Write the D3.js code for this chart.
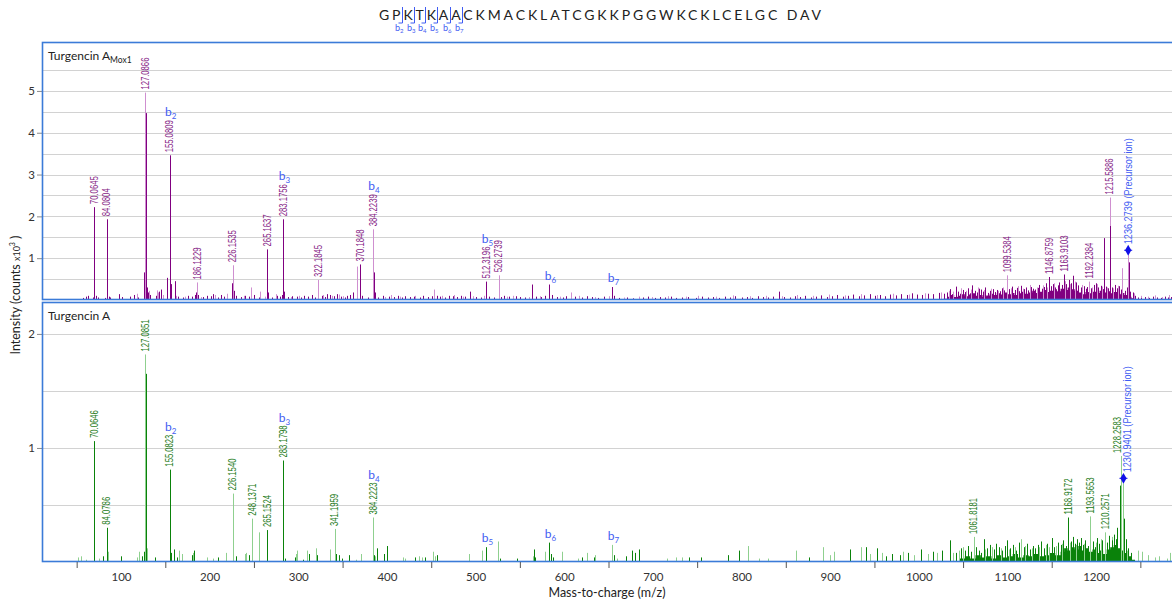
<!DOCTYPE html>
<html>
<head>
<meta charset="utf-8">
<script src="https://cdn.jsdelivr.net/npm/d3@7"></script>
<style>
  body { margin: 0; background: #fff; }
  svg { display: block; font-family: Lato, "Open Sans", "Liberation Sans", sans-serif; }
</style>
</head>
<body>
<svg id="chart" width="1172" height="602"></svg>
<script>
// ---------- Peptide sequence and b-ion fragments ----------
const sequence = "GPKTKAACKMACKLATCGKKPGGWKCKLCELGC DAV";
const bIonNames = ["b2", "b3", "b4", "b5", "b6", "b7"];
const bIonMz = [155.08, 283.18, 384.22, 512.32, 583.36, 654.39];

// ---------- Axis ticks ----------
const xTickLabels = [100, 200, 300, 400, 500, 600, 700, 800, 900, 1000, 1100, 1200];
const xMinorTicks = [50, 150, 250, 350, 450, 550, 650, 750, 850, 950, 1050, 1150, 1250];
const yTicksTop = [1, 2, 3, 4, 5];
const yGridTop = [0.5, 1, 1.5, 2, 2.5, 3, 3.5, 4, 4.5, 5, 5.5];
const yTicksBottom = [1, 2];
const yGridBottom = [0.5, 1, 1.5, 2];

// ---------- Turgencin A Mox1 spectrum: [m/z, intensity (x10^3 counts)] ----------
const topDark = [
  [57.1,.05],[60.0,.08],[62.4,.10],[68.2,.06],[70.0645,2.22],[72.1,.10],[74.5,.06],[81.5,.05],[84.0804,1.93],[86.1,.08],
  [88.0,.06],[98.1,.14],[101.1,.07],[110.2,.08],[115.1,.12],[119.5,.06],[126.1,.66],[128.6,4.47],[129.6,.30],[130.6,.18],
  [133.0,.12],[139.2,.10],[143.1,.20],[145.5,.25],[151.5,.53],[155.0809,3.46],[156.4,.38],[160.6,.45],[164.2,.08],[170.1,.06],
  [175.2,.10],[180.5,.08],[183.2,.12],[184.8,.18],[186.9,.12],[192.1,.07],[196.5,.10],[201.2,.09],[203.4,.14],[209.8,.06],
  [212.3,.12],[216.1,.08],[224.9,.40],[227.1,.22],[229.4,.10],[235.1,.07],[240.2,.10],[244.2,.08],[250.1,.12],[255.3,.06],
  [265.1637,1.21],[266.4,.18],[270.3,.06],[276.0,.10],[279.2,.08],[281.4,.12],[283.1756,1.93],[284.4,.20],[288.5,.07],[293.1,.09],
  [298.2,.08],[303.2,.06],[306.1,.10],[311.2,.08],[315.0,.12],[318.4,.06],[326.4,.10],[330.5,.07],[332.2,.14],[336.1,.12],
  [340.2,.09],[344.0,.14],[348.1,.08],[352.3,.06],[355.2,.10],[358.8,.12],[362.1,.18],[370.1848,.85],[372.4,.10],[378.2,.06],
  [385.4,.66],[386.8,.18],[390.2,.06],[395.1,.10],[402.4,.08],[408.2,.07],[412.5,.10],[417.3,.06],[420.1,.09],[426.3,.07],
  [430.2,.08],[437.1,.06],[441.0,.10],[446.2,.07],[450.5,.09],[456.1,.10],[460.2,.08],[465.3,.06],[470.1,.10],[474.2,.09],
  [479.3,.07],[483.3,.10],[488.1,.08],[493.2,.20],[500.3,.07],[506.2,.06],[512.3196,.44],[515.1,.08],[520.3,.06],[528.4,.07],
  [532.2,.10],[538.0,.08],[545.3,.09],[550.1,.07],[556.2,.06],[564.0,.37],[568.4,.08],[574.1,.07],[578.2,.10],[583.3,.37],
  [586.2,.12],[591.4,.07],[598.1,.06],[602.3,.09],[612.2,.08],[620.1,.06],[626.3,.09],[631.1,.07],[638.2,.05],[645.0,.08],
  [654.4,.31],[656.1,.10],[662.2,.05],[670.3,.06],[678.1,.04],[689.2,.06],[695.1,.08],[702.3,.05],[708.4,.07],[714.2,.06],
  [720.1,.08],[726.5,.05],[733.2,.06],[740.1,.07],[748.3,.05],[755.2,.08],[762.1,.06],[768.4,.07],[775.0,.05],[781.2,.08],
  [787.3,.06],[793.1,.09],[800.2,.06],[806.4,.07],[812.3,.05],[818.1,.09],[824.2,.07],[830.4,.06],[836.1,.08],[842.3,.20],
  [848.1,.07],[854.2,.06],[860.5,.09],[866.2,.07],[872.1,.10],[878.3,.06],[884.2,.08],[890.1,.11],[896.3,.07],[902.2,.09],
  [908.1,.12],[914.4,.08],[920.2,.10],[926.3,.13],[932.1,.09],[938.2,.11],[944.5,.14],[950.1,.10],[956.3,.12],[962.2,.09],
  [968.0,.13],[974.3,.11],[980.1,.14],[986.2,.12],[992.4,.16],[998.1,.13],[1004.2,.12],[1010.3,.15],[1016.1,.14],[1022.4,.17],
  [1028.2,.15],[1032.4,.18],[1035.1,.26],[1037.8,.14],[1041.8,.32],[1044.2,.20],[1046.9,.15],[1049.5,.24],[1052.3,.19],[1055.0,.28],
  [1057.6,.16],[1060.4,.35],[1063.1,.22],[1065.7,.18],[1068.2,.27],[1070.0,.25],[1072.8,.20],[1075.3,.30],[1078.1,.17],[1080.6,.22],
  [1083.4,.26],[1086.0,.19],[1088.7,.24],[1091.2,.21],[1093.9,.28],[1096.5,.23],[1102.3,.26],[1105.6,.32],[1108.2,.24],[1110.9,.29],
  [1113.5,.21],[1115.9,.34],[1118.6,.26],[1121.2,.30],[1123.8,.23],[1126.4,.31],[1129.0,.27],[1131.7,.25],[1134.3,.29],[1136.0,.36],
  [1138.8,.27],[1141.2,.31],[1143.5,.40],[1146.8759,.55],[1149.4,.33],[1151.7,.38],[1154.2,.30],[1156.6,.35],[1158.7,.42],[1161.1,.36],
  [1163.9103,.61],[1166.2,.38],[1169.5,.48],[1171.9,.40],[1174.3,.58],[1177.6,.42],[1180.1,.35],[1182.7,.30],[1185.9,.33],[1188.4,.27],
  [1190.1,.31],[1194.6,.28],[1197.2,.36],[1199.8,.40],[1202.5,.30],[1205.1,.34],[1207.4,.26],[1209.5,1.48],[1211.8,.32],[1213.6,.28],
  [1216.3,1.77],[1218.4,.30],[1221.0,.36],[1223.5,.28],[1225.8,.33],[1228.0,.25],[1232.7,.22],[1234.4,.30],[1237.0,.90],[1238.6,.20],
  [1241.5,.18],[1244.0,.10],[1247.3,.06],[1251.2,.05],[1255.6,.07],[1260.3,.05],[1264.8,.08],[1269.1,.06],[1273.4,.05],[1277.9,.08],
  [1281.5,.06],[1284.8,.07]
];
const topLight = [
  [118.0,.15],[127.0866,4.96],[131.2,.22],[140.2,.23],[141.5,.18],[147.8,.12],[162.3,.10],[172.4,.08],[186.1229,.42],[190.3,.07],
  [206.2,.12],[219.3,.15],[226.1535,.83],[238.4,.10],[246.3,.30],[257.0,.20],[262.0,.08],[274.4,.14],[291.3,.07],[300.4,.10],
  [322.1845,.48],[328.1,.12],[338.2,.10],[346.3,.13],[350.0,.09],[366.0,.80],[384.2239,1.69],[398.4,.07],[405.0,.12],[415.2,.08],
  [432.1,.10],[453.5,.25],[462.2,.10],[476.1,.12],[485.4,.08],[497.2,.09],[510.0,.10],[526.2739,.59],[535.3,.08],[542.1,.10],
  [560.2,.07],[572.2,.09],[595.2,.08],[608.0,.18],[616.3,.10],[634.2,.07],[650.1,.09],[667.2,.06],[684.3,.08],[699.2,.07],
  [717.3,.09],[737.1,.08],[751.2,.10],[771.3,.08],[790.4,.11],[809.2,.09],[827.3,.10],[845.2,.09],[863.1,.12],[881.2,.10],
  [899.3,.13],[917.2,.11],[935.4,.14],[953.1,.12],[971.2,.15],[989.3,.13],[1007.2,.16],[1025.1,.18],[1033.6,.22],[1039.0,.20],
  [1047.7,.28],[1053.8,.22],[1058.9,.25],[1066.6,.30],[1073.9,.24],[1081.9,.27],[1089.9,.22],[1094.8,.30],[1099.5384,.59],[1103.9,.28],
  [1111.7,.33],[1117.4,.27],[1125.0,.36],[1132.9,.30],[1139.7,.35],[1144.9,.30],[1152.9,.40],[1157.6,.34],[1165.0,.45],[1170.7,.38],
  [1176.1,.44],[1183.8,.36],[1192.2384,.44],[1196.0,.30],[1201.1,.38],[1206.3,.32],[1212.7,.30],[1215.5886,2.45],[1219.7,.28],[1224.6,.34],
  [1229.6,.76],[1236.2739,1.07],[1242.8,.16],[1250.3,.10],[1258.2,.08],[1266.4,.11],[1274.1,.07],[1282.3,.12]
];
// unresolved baseline under the high-mass cluster
const topFloor = [
  [1028,.03],[1032,.08],[1036,.12],[1040,.07],[1044,.10],[1048,.14],[1052,.09],[1056,.13],[1060,.16],[1064,.10],
  [1068,.12],[1072,.08],[1076,.11],[1080,.15],[1084,.12],[1088,.16],[1092,.13],[1096,.18],[1100,.14],[1104,.17],
  [1108,.12],[1112,.16],[1116,.20],[1120,.15],[1124,.18],[1128,.22],[1132,.17],[1136,.20],[1140,.24],[1144,.19],
  [1148,.22],[1152,.26],[1156,.21],[1160,.27],[1164,.24],[1168,.30],[1172,.26],[1176,.22],[1180,.18],[1184,.14],
  [1188,.19],[1192,.16],[1196,.20],[1200,.17],[1204,.22],[1208,.18],[1212,.21],[1216,.16],[1220,.19],[1224,.14],
  [1228,.17],[1232,.12],[1236,.08],[1240,.04],[1244,0]
];
const topLabels = [70.0645, 84.0804, 127.0866, 155.0809, 186.1229, 226.1535, 265.1637, 283.1756, 322.1845, 370.1848,
  384.2239, 512.3196, 526.2739, 1099.5384, 1146.8759, 1163.9103, 1192.2384, 1215.5886];
const topPrecursor = 1236.2739;

// ---------- Turgencin A spectrum ----------
const bottomDark = [
  [70.0646,1.06],[80.0,.05],[84.0786,.30],[99.6,.05],[123.3,.05],[126.3,.09],[128.6,1.65],[138.7,.04],[155.0823,.81],[156.6,.08],
  [160.0,.11],[163.6,.04],[180.4,.06],[182.0,.10],[209.8,.04],[229.4,.05],[244.4,.06],[265.1524,.28],[283.1798,.89],[284.8,.03],
  [296.3,.04],[305.0,.02],[312.0,.07],[320.8,.06],[342.4,.07],[346.3,.06],[349.0,.03],[357.2,.06],[385.6,.06],[388.4,.12],
  [397.0,.07],[400.5,.14],[431.2,.04],[443.3,.04],[456.1,.06],[512.3,.13],[528.0,.03],[547.0,.03],[565.6,.11],[567.5,.04],
  [583.36,.17],[585.0,.07],[587.0,.04],[620.5,.04],[633.6,.04],[656.0,.06],[670.0,.05],[676.0,.10],[680.0,.08],[684.8,.11],
  [741.0,.04],[754.0,.04],[785.0,.06],[797.6,.10],[875.8,.04],[922.6,.11],[940.9,.13],[953.3,.12],[963.5,.05],[970.2,.07],
  [978.4,.06],[988.0,.08],[1003.0,.11],[1015.8,.09],[1026.5,.10],[1035.0,.19],[1042.5,.08],[1047.3,.12],[1052.0,.10],[1055.8,.14],
  [1058.6,.09],[1064.2,.13],[1067.9,.10],[1070.5,.08],[1073.6,.20],[1077.3,.12],[1080.8,.15],[1084.4,.11],[1087.1,.16],[1090.6,.13],
  [1094.0,.10],[1097.2,.14],[1099.6,.19],[1103.1,.12],[1106.7,.15],[1109.8,.10],[1113.0,.17],[1118.5,.13],[1122.0,.16],[1125.4,.11],
  [1128.8,.14],[1131.6,.12],[1134.5,.15],[1138.0,.18],[1141.3,.12],[1144.6,.16],[1149.8,.21],[1152.3,.13],[1157.0,.17],[1160.4,.15],
  [1163.2,.19],[1165.8,.14],[1168.9172,.39],[1171.2,.18],[1173.5,.22],[1175.9,.16],[1178.3,.20],[1180.7,.17],[1183.0,.21],[1185.6,.15],
  [1188.1,.19],[1190.4,.14],[1196.2,.18],[1198.7,.13],[1201.3,.21],[1203.8,.16],[1206.5,.19],[1212.6,.17],[1215.0,.23],[1217.5,.19],
  [1219.8,.24],[1222.3,.20],[1224.0,.30],[1227.6,.67],[1231.6,.38],[1233.8,.20],[1236.4,.12],[1239.0,.08]
];
const bottomLight = [
  [52.0,.04],[54.5,.05],[61.0,.02],[75.0,.03],[85.4,.09],[118.4,.04],[120.0,.09],[127.0851,1.82],[129.6,.12],[165.8,.10],
  [168.5,.07],[181.5,.08],[196.7,.04],[203.4,.03],[218.0,.08],[226.1540,.60],[239.5,.07],[241.5,.08],[248.1371,.38],[255.7,.26],
  [297.4,.07],[298.9,.10],[310.2,.10],[319.6,.12],[335.8,.11],[341.1959,.29],[365.0,.02],[370.8,.07],[384.2223,.39],[386.6,.05],
  [417.8,.04],[420.8,.03],[435.7,.05],[439.2,.04],[451.6,.09],[454.2,.05],[492.2,.07],[506.9,.10],[525.7,.18],[564.4,.05],
  [578.3,.09],[597.8,.09],[615.6,.03],[625.3,.08],[635.0,.06],[654.39,.15],[660.0,.03],[715.7,.03],[726.0,.04],[733.0,.04],
  [807.9,.14],[820.0,.03],[830.2,.03],[861.8,.10],[892.3,.13],[900.1,.06],[904.0,.09],[935.0,.13],[945.5,.07],[958.6,.08],
  [982.0,.09],[995.0,.06],[1010.2,.07],[1021.0,.08],[1038.6,.08],[1045.0,.10],[1049.6,.13],[1061.8181,.22],[1075.2,.11],[1082.6,.13],
  [1092.4,.12],[1101.5,.11],[1108.3,.13],[1115.9,.20],[1120.4,.14],[1127.2,.12],[1136.2,.13],[1143.0,.15],[1147.5,.13],[1155.0,.14],
  [1162.0,.16],[1170.3,.17],[1177.0,.15],[1186.4,.16],[1193.5653,.40],[1199.9,.17],[1205.2,.20],[1210.2571,.26],[1218.4,.22],[1222.9,.18],
  [1228.2583,.93],[1230.9401,.69],[1234.6,.10],[1247.3,.10],[1251.8,.09],[1258.6,.06],[1266.2,.04],[1271.0,.05],[1279.5,.03],[1284.0,.08]
];
const bottomFloor = [
  [1040,0],[1046,.03],[1052,.05],[1058,.03],[1064,.06],[1070,.04],[1076,.05],[1082,.03],[1088,.06],[1094,.04],
  [1100,.05],[1106,.07],[1112,.04],[1118,.06],[1124,.05],[1130,.07],[1136,.05],[1142,.06],[1148,.08],[1154,.06],
  [1160,.09],[1164,.12],[1168,.10],[1172,.13],[1176,.11],[1180,.14],[1184,.10],[1188,.12],[1192,.09],[1196,.11],
  [1200,.08],[1204,.10],[1208,.07],[1212,.11],[1216,.13],[1220,.15],[1224,.12],[1228,.10],[1232,.08],[1236,.05],
  [1240,.02],[1244,0]
];
const bottomLabels = [70.0646, 84.0786, 127.0851, 155.0823, 226.1540, 248.1371, 265.1524, 283.1798, 341.1959, 384.2223,
  1061.8181, 1168.9172, 1193.5653, 1210.2571, 1228.2583];
const bottomPrecursor = 1230.9401;

// ---------- Layout ----------
const svg = d3.select("#chart");
const plotLeft = 42, plotRight = 1172;
const x = d3.scaleLinear().domain([10.9, 1285.7]).range([plotLeft, plotRight]);
const frameBlue = "#3b7bd8";
const ionBlue = "#3f5cf2";
const labelFont = '"Liberation Sans", Arial, sans-serif';

const panels = [
  { key: "mox", title: "Turgencin A", sub: "Mox1", top: 42, bottom: 300, ymax: 6.17,
    ticks: yTicksTop, grid: yGridTop, dark: topDark, light: topLight, floor: topFloor,
    labels: topLabels, precursor: topPrecursor,
    darkColor: "#800080", lightColor: "#cf8fd0", textColor: "#862486" },
  { key: "native", title: "Turgencin A", sub: "", top: 302, bottom: 562, ymax: 2.28,
    ticks: yTicksBottom, grid: yGridBottom, dark: bottomDark, light: bottomLight, floor: bottomFloor,
    labels: bottomLabels, precursor: bottomPrecursor,
    darkColor: "#0a820a", lightColor: "#8fd08f", textColor: "#237a17" }
];

function fmt(v) { return v.toFixed(4); }

panels.forEach(p => {
  const y = d3.scaleLinear().domain([0, p.ymax]).range([p.bottom, p.top]);
  const g = svg.append("g");

  svg.append("clipPath").attr("id", "clip-" + p.key)
    .append("rect").attr("x", plotLeft).attr("y", p.top)
    .attr("width", plotRight - plotLeft).attr("height", p.bottom - p.top);

  // horizontal gridlines
  g.append("g").selectAll("line").data(p.grid).join("line")
    .attr("x1", plotLeft).attr("x2", plotRight)
    .attr("y1", d => Math.round(y(d)) + 0.5).attr("y2", d => Math.round(y(d)) + 0.5)
    .attr("stroke", "#d2d2d2").attr("stroke-width", 1);

  // y axis
  const ay = g.append("g").attr("transform", `translate(${plotLeft},0)`)
    .call(d3.axisLeft(y).tickValues(p.ticks).tickSize(5).tickPadding(2).tickFormat(d3.format("d")));
  ay.select(".domain").remove();
  ay.selectAll(".tick line").attr("stroke", "#8a8a8a");
  ay.selectAll(".tick text").attr("font-size", 11.5).attr("fill", "#333")
    .attr("font-family", "Lato, sans-serif");

  // peaks
  const plot = g.append("g").attr("clip-path", `url(#clip-${p.key})`);
  plot.append("path").datum(p.floor)
    .attr("d", d3.area().x(d => x(d[0])).y0(p.bottom).y1(d => y(d[1])).curve(d3.curveStepAfter))
    .attr("fill", p.darkColor);
  const bar = sel => sel
    .attr("x1", d => Math.round(x(d[0])) + 0.5).attr("x2", d => Math.round(x(d[0])) + 0.5)
    .attr("y1", p.bottom).attr("y2", d => y(d[1]))
    .attr("stroke-width", 1);
  plot.append("g").selectAll("line").data(p.light).join("line").call(bar).attr("stroke", p.lightColor);
  plot.append("g").selectAll("line").data(p.dark).join("line").call(bar).attr("stroke", p.darkColor);

  // frame
  g.append("rect").attr("x", plotLeft + 0.5).attr("y", p.top + 0.5)
    .attr("width", plotRight - plotLeft + 30).attr("height", p.bottom - p.top - 1)
    .attr("fill", "none").attr("stroke", frameBlue).attr("stroke-width", 1.6);

  // panel title
  const tt = g.append("text").attr("x", 48).attr("y", p.top + 18)
    .attr("font-size", 12).attr("fill", "#222");
  tt.append("tspan").text(p.title);
  if (p.sub) tt.append("tspan").attr("font-size", 8.5).attr("dy", 3).text(p.sub);

  // peak annotations
  const all = p.dark.concat(p.light);
  const findPeak = mz => all.find(d => Math.abs(d[0] - mz) < 1e-6);
  const items = p.labels.map(mz => {
    const pk = findPeak(mz);
    return { mz, v: pk[1], x: x(mz), lx: x(mz), text: fmt(mz), color: p.textColor, pre: false };
  });
  const pp = findPeak(p.precursor);
  items.push({ mz: p.precursor, v: pp[1], x: x(p.precursor), lx: x(p.precursor),
    text: fmt(p.precursor) + " (Precursor ion)", color: ionBlue, pre: true });
  items.sort((a, b) => a.x - b.x);
  for (let i = 1; i < items.length; i++) {
    const gap = items[i].lx - items[i - 1].lx;
    if (gap < 10) { const s = (10 - gap) / 2; items[i - 1].lx -= s; items[i].lx += s; }
  }

  const ann = g.append("g");
  items.forEach(it => {
    const top = y(it.v);
    let start = top - 3;
    if (it.pre) {
      ann.append("path").attr("d", d3.symbol(d3.symbolDiamond, 34)())
        .attr("transform", `translate(${it.x},${top - 5})`).attr("fill", "#1010e8");
      ann.append("line").attr("x1", it.x - 4).attr("x2", it.x + 4)
        .attr("y1", top - 5).attr("y2", top - 5).attr("stroke", "#1010e8").attr("stroke-width", 1);
      start = top - 11;
    }
    // narrow, condensed value labels
    const len = it.pre ? 106 : it.text.length * 4.0;
    ann.append("text")
      .attr("transform", `translate(${it.lx},${start}) rotate(-90)`)
      .attr("dy", "0.36em").attr("font-size", 10)
      .attr("textLength", len).attr("lengthAdjust", "spacingAndGlyphs")
      .attr("font-family", labelFont).attr("fill", it.color).text(it.text);
    it.end = start - len;
  });

  // b-ion markers over their fragment peaks
  bIonNames.forEach((name, i) => {
    const near = all.filter(d => Math.abs(d[0] - bIonMz[i]) < 1.2);
    const pk = near.reduce((a, b) => (b[1] > a[1] ? b : a));
    const lab = items.find(it => Math.abs(it.mz - pk[0]) < 1e-6);
    const base = lab ? lab.end - 4 : y(pk[1]) - 5;
    const bt = ann.append("text").attr("x", x(pk[0]) + 1).attr("y", base)
      .attr("text-anchor", "middle").attr("font-size", 12).attr("fill", ionBlue)
      .attr("font-family", "Lato, sans-serif");
    bt.append("tspan").text("b");
    bt.append("tspan").attr("font-size", 8).attr("dy", 3).text(name.slice(1));
  });
});

// ---------- x axis ----------
const yAxisBase = panels[1].bottom;
const axMinor = svg.append("g").attr("transform", `translate(0,${yAxisBase})`)
  .call(d3.axisBottom(x).tickValues(xMinorTicks).tickSize(6).tickFormat(""));
axMinor.select(".domain").remove();
axMinor.selectAll(".tick line").attr("stroke", "#555");
const axMajor = svg.append("g").attr("transform", `translate(0,${yAxisBase})`)
  .call(d3.axisBottom(x).tickValues(xTickLabels).tickSize(0).tickPadding(11).tickFormat(d3.format("d")));
axMajor.select(".domain").remove();
axMajor.selectAll(".tick text").attr("font-size", 11.5).attr("fill", "#333")
  .attr("font-family", "Lato, sans-serif");

svg.append("text").attr("x", 607).attr("y", 597).attr("text-anchor", "middle")
  .attr("font-size", 12.5).attr("fill", "#222").text("Mass-to-charge (m/z)");

const yt = svg.append("text").attr("transform", "translate(20,295) rotate(-90)")
  .attr("text-anchor", "middle").attr("font-size", 12.5).attr("fill", "#222");
yt.append("tspan").text("Intensity (counts ");
yt.append("tspan").attr("font-size", 9).text("x10");
yt.append("tspan").attr("font-size", 7).attr("dy", -5).text("3");
yt.append("tspan").attr("dy", 5).text(" )");

// ---------- sequence header with b-ion cleavage marks ----------
const seqText = svg.append("text").attr("x", 379).attr("y", 20)
  .attr("font-size", 14).attr("fill", "#222")
  .attr("textLength", 442).attr("lengthAdjust", "spacing")
  .text(sequence);
const node = seqText.node();
bIonNames.forEach((name, i) => {
  const idx = i + 1;
  const a = node.getEndPositionOfChar(idx).x;
  const b = node.getStartPositionOfChar(idx + 1).x;
  const cx = Math.round((a + b) / 2) + 0.5;
  svg.append("path").attr("d", `M${cx},7V23H${cx - 4}`)
    .attr("fill", "none").attr("stroke", ionBlue).attr("stroke-width", 1);
  const lt = svg.append("text").attr("x", cx + 1).attr("y", 31).attr("text-anchor", "end")
    .attr("font-size", 9).attr("fill", ionBlue);
  lt.append("tspan").text("b");
  lt.append("tspan").attr("font-size", 6).attr("dy", 2).text(name.slice(1));
});
</script>
</body>
</html>
